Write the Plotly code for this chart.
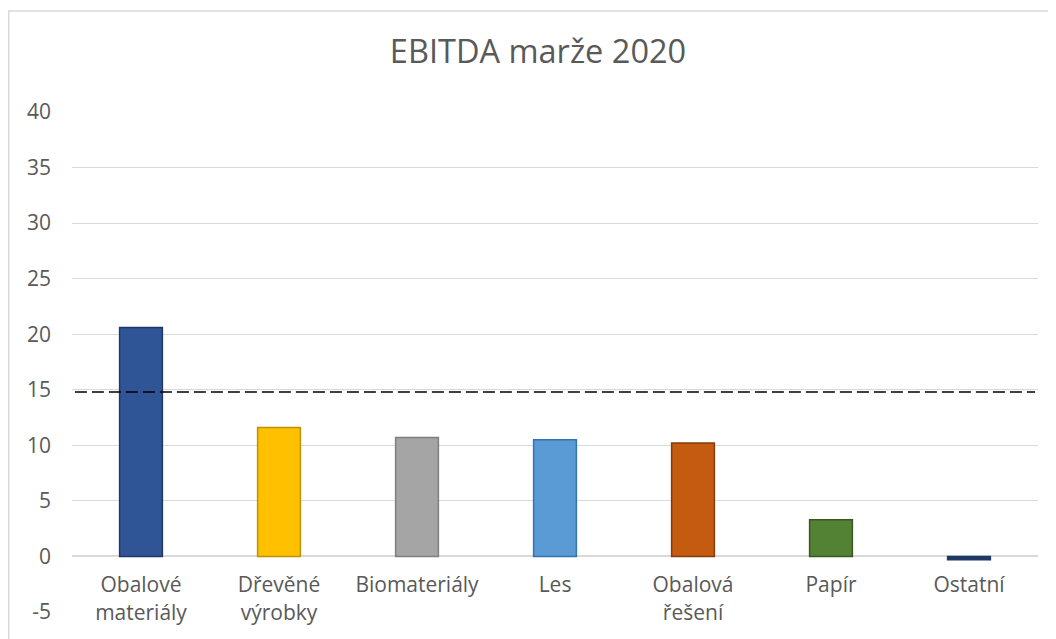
import plotly.graph_objects as go

categories = ["Obalové<br>materiály", "Dřevěné<br>výrobky", "Biomateriály", "Les",
              "Obalová<br>řešení", "Papír", "Ostatní"]
values = [20.6, 11.6, 10.7, 10.5, 10.2, 3.3, -0.3]
threshold = 14.8
fill_colors = ["#2F5597", "#FFC000", "#A5A5A5", "#5B9BD5", "#C55A11", "#548235", "#1F3864"]
line_colors = ["#1F3864", "#BF9000", "#7F7F7F", "#2E75B6", "#843C0C", "#385723", "#1F3864"]
y_tickvals = [-5, 0, 5, 10, 15, 20, 25, 30, 35, 40]
y_ticktext = ["-5", "0", "5", "10", "15", "20", "25", "30", "35", "40"]
title_text = "EBITDA marže 2020"

FONT = "Open Sans"
GRAY = "#595959"

fig = go.Figure()
fig.add_trace(go.Bar(
    x=categories, y=values, width=0.31,
    marker=dict(color=fill_colors, line=dict(color=line_colors, width=1.5)),
    showlegend=False, hoverinfo="x+y",
))

# page body has an 8px margin, so figure coordinates are offset by 8px
OFF = 8
W, H = 1056, 639
L, R, T, B = 72 - OFF, W - (1038 - OFF), 104, H - (612 - OFF)
plot_w = W - L - R
plot_h = H - T - B

fig.add_shape(type="line", xref="paper", yref="y", x0=0.003, x1=0.997,
              y0=threshold, y1=threshold,
              line=dict(color="black", width=1.5, dash="12px,5px"), layer="above")

# chart border
fig.add_shape(type="rect", xref="paper", yref="paper",
              x0=(8 - OFF + 0.75 - L) / plot_w, x1=1.2,
              y0=-0.3, y1=(H - B - (11 - OFF)) / plot_h,
              line=dict(color="#D9D9D9", width=1.5), fillcolor="rgba(0,0,0,0)", layer="below")

fig.update_layout(
    width=W, height=H,
    margin=dict(l=L, r=R, t=T, b=B, autoexpand=False),
    paper_bgcolor="white", plot_bgcolor="white",
    font=dict(family=FONT, color=GRAY, size=21),
    title=dict(text=title_text, x=(538 - OFF) / W, xref="container", xanchor="center",
               y=1 - (52 - OFF) / H, yref="container", yanchor="middle",
               font=dict(family=FONT, size=32.5, color=GRAY)),
)
fig.update_yaxes(range=[-5, 40], tickvals=y_tickvals, ticktext=y_ticktext,
                 showgrid=True, gridcolor="#D9D9D9", gridwidth=1,
                 zeroline=True, zerolinecolor="#D9D9D9", zerolinewidth=1.5,
                 showline=False, ticks="", ticklabelstandoff=20, automargin=False,
                 tickfont=dict(family=FONT, size=21, color=GRAY), fixedrange=True)
fig.update_xaxes(anchor="free", position=5 / 45, showline=False, showgrid=False,
                 ticks="", ticklabelstandoff=14, automargin=False,
                 tickfont=dict(family=FONT, size=21, color=GRAY), fixedrange=True)

fig.write_html("out.html")
